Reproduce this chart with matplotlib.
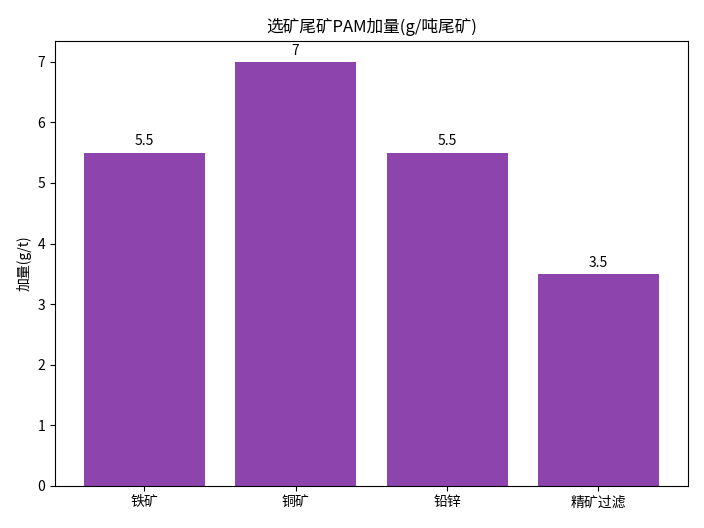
import matplotlib
matplotlib.use('Agg')
import matplotlib.pyplot as plt

plt.rcParams['font.family'] = ['Noto Sans CJK SC', 'DejaVu Sans']
plt.rcParams['axes.unicode_minus'] = False

categories = ['铁矿', '铜矿', '铅锌', '精矿过滤']
dosage = [5.5, 7, 5.5, 3.5]
labels = ['5.5', '7', '5.5', '3.5']

fig = plt.figure(figsize=(7.04, 5.28), dpi=100)
ax = fig.add_axes([0.078, 0.080, 0.899, 0.843])

bars = ax.bar(categories, dosage, color='#8e44ad', width=0.8)
for b, t in zip(bars, labels):
    ax.text(b.get_x() + b.get_width() / 2, b.get_height() + 0.07, t,
            ha='center', va='bottom', fontsize=10)

ax.set_title('选矿尾矿PAM加量(g/吨尾矿)', fontsize=12)
ax.set_ylabel('加量(g/t)', fontsize=10)
ax.set_ylim(0, 7.35)
ax.set_yticks(range(0, 8))

fig.savefig('out.png', dpi=100)
